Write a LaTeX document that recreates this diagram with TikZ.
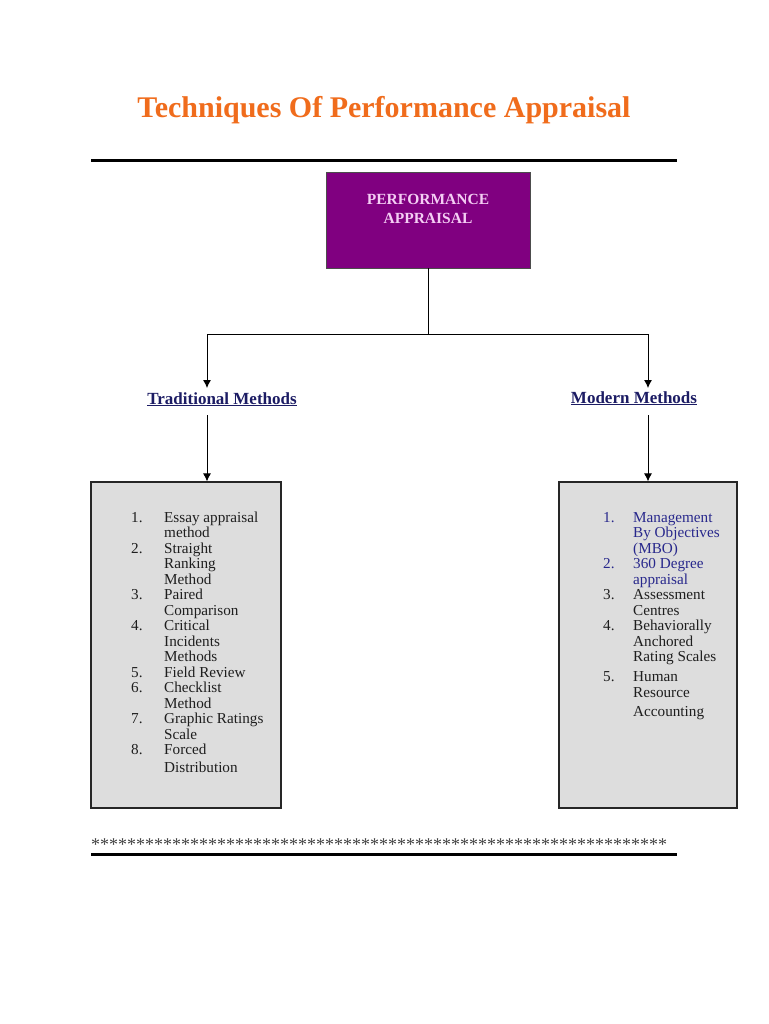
\documentclass[tikz,border=0pt]{standalone}
\usepackage{fontspec}
\setmainfont{Liberation Serif}
\usepackage{xcolor}
\usetikzlibrary{arrows.meta,positioning,calc}
\definecolor{titleorange}{RGB}{240,108,28}
\definecolor{papurple}{RGB}{128,0,128}
\definecolor{papink}{RGB}{244,206,244}
\definecolor{navy}{RGB}{28,28,100}
\definecolor{listblue}{RGB}{40,40,140}
\definecolor{boxgray}{RGB}{221,221,221}
\definecolor{listtext}{RGB}{30,30,30}
\tikzset{
  pagetitle/.style={anchor=base, inner sep=0pt, text=titleorange, font=\fontsize{30}{30}\selectfont\bfseries},
  rootbox/.style={rectangle, draw=black!70, fill=papurple, minimum width=204pt, minimum height=96pt, inner sep=0pt},
  roottext/.style={anchor=base, inner sep=0pt, text=papink, font=\fontsize{15.5}{15.5}\selectfont\bfseries},
  methodlabel/.style={anchor=base, inner sep=0pt, text=navy, font=\fontsize{17}{17}\selectfont\bfseries},
  listbox/.style={rectangle, draw=black!85, line width=1.2pt, fill=boxgray, inner sep=0pt},
  listline/.style={anchor=base west, inner sep=0pt, font=\fontsize{15.2}{15.2}\selectfont},
  rule/.style={line width=3pt, black},
  arrow/.style={-{Latex[length=8pt,width=8pt]}, line width=0.9pt},
  link/.style={line width=0.9pt}
}
\newcommand{\methodul}[1]{\underline{#1}}

\begin{document}
\begin{tikzpicture}[x=1pt, y=-1pt]
  \useasboundingbox[fill=white] (0,0) rectangle (768,1024);

  % title and rules
  \node[pagetitle] (title) at (384,118) {Techniques Of Performance Appraisal};
  \coordinate (rtl) at (91,161);
  \coordinate (rtr) at (677,161);
  \draw[rule] (rtl) -- (rtr);

  % root box
  \node[rootbox] (pa) at (428,220) {};
  \node[roottext] (pa1) at (428,205) {PERFORMANCE};
  \node[roottext] (pa2) at (428,223) {APPRAISAL};

  % branch
  \coordinate (split) at (428,334);
  \coordinate (bl) at (207,334);
  \coordinate (br) at (648,334);
  \draw[link] (pa.south) -- (split);
  \draw[link] (bl) -- (br);

  % method labels
  \node[methodlabel] (trad) at (222,404) {\methodul{Traditional Methods}};
  \node[methodlabel] (modern) at (634,403) {\methodul{Modern Methods}};
  \draw[arrow] (bl) -- (bl |- 0,388);
  \draw[arrow] (br) -- (br |- 0,388);

  % list boxes
  \node[listbox, minimum width=190pt, minimum height=326pt] (tradbox) at (186,645) {};
  \node[listbox, minimum width=178pt, minimum height=326pt] (modbox) at (648,645) {};
  \draw[arrow] (bl |- 0,415) -- (bl |- tradbox.north);
  \draw[arrow] (br |- 0,415) -- (br |- modbox.north);

  % traditional methods
  \foreach \y/\n in {522/1.,553/2.,599/3.,630/4.,677/5.,692/6.,723/7.,754/8.}
    \node[listline, text=listtext] at (131,\y) {\n};
  \foreach \y/\t [count=\i] in {522/Essay appraisal,537/method,553/Straight,568/Ranking,584/Method,
      599/Paired,615/Comparison,630/Critical,646/Incidents,661/Methods,677/Field Review,
      692/Checklist,708/Method,723/Graphic Ratings,739/Scale,754/Forced,772/Distribution}
    \node[listline, text=listtext] (trad\i) at (164,\y) {\t};

  % modern methods
  \foreach \y/\n/\c in {522/1./listblue,568/2./listblue,599/3./listtext,630/4./listtext,681/5./listtext}
    \node[listline, text=\c] at (603,\y) {\n};
  \foreach \y/\c/\t [count=\i] in {522/listblue/Management,537/listblue/By Objectives,553/listblue/(MBO),
      568/listblue/360 Degree,584/listblue/appraisal,599/listtext/Assessment,615/listtext/Centres,
      630/listtext/Behaviorally,646/listtext/Anchored,661/listtext/Rating Scales,
      681/listtext/Human,697/listtext/Resource,716/listtext/Accounting}
    \node[listline, text=\c] (modern\i) at (633,\y) {\t};

  % closing rules
  \node[anchor=base west, inner sep=0pt, text=black!75, font=\fontsize{18}{18}\selectfont] (stars) at (91,850)
    {\foreach \k in {1,...,64}{*}};
  \coordinate (rbl) at (91,854);
  \coordinate (rbr) at (677,854);
  \draw[rule] (rbl) -- (rbr);
\end{tikzpicture}
\end{document}
